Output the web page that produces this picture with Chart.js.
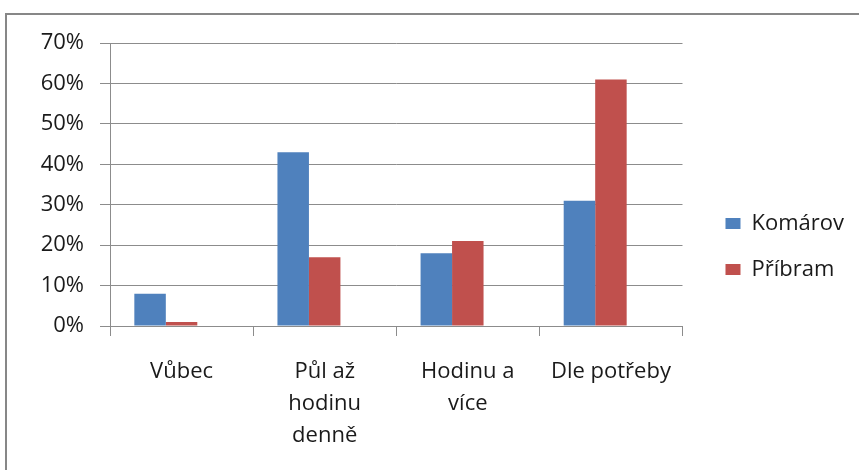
<!DOCTYPE html>
<html>
    <head>
        <meta charset="utf-8">
        <title>Komárov a Příbram</title>
        <style>
            body { margin: 0; background: #fff; }
            #wrap { position: relative; width: 859px; height: 470px; overflow: hidden; }
            #frame { position: absolute; left: 5px; top: 13px; width: 900px; height: 500px; border: 2px solid #878787; }
            #chart { position: absolute; left: 0; top: 0; }
        </style>
    </head>
    <body>
        <div id="wrap">
            <div id="frame"></div>
            <canvas id="chart" width="859" height="470"></canvas>
        </div>
    </body>

    <script src="https://cdn.jsdelivr.net/npm/chart.js@4.4.1/dist/chart.umd.min.js"></script>

    <script>
        const categories = [["Vůbec"], ["Půl až", "hodinu", "denně"], ["Hodinu a", "více"], ["Dle potřeby"]];
        const komarov = [8, 43, 18, 31];
        const pribram = [1, 17, 21, 61];
        // v originale je treti, prazdna rada - proto jsou sloupce posunute doleva
        const empty = [null, null, null, null];
        const yTicks = [0, 10, 20, 30, 40, 50, 60, 70];

        const FONT = { family: "'Open Sans', sans-serif", size: 22 };
        const GRID = "#8c8c8c";

        // posune legendu doprava jako v Excelu
        const legendShift = {
            id: "legendShift",
            afterLayout(chart) {
                chart.legend.left += 19;
                chart.legend.right += 19;
            }
        };

        const ctx = document.getElementById("chart").getContext("2d");
        const chart = new Chart(ctx, {
            type: "bar",
            data: {
                labels: categories,
                datasets: [
                    { label: "Komárov", data: komarov, backgroundColor: "#4f81bd" },
                    { label: "Příbram", data: pribram, backgroundColor: "#c0504d" },
                    { label: "", data: empty, backgroundColor: "#9bbb59" }
                ]
            },
            options: {
                responsive: false,
                animation: false,
                devicePixelRatio: 1,
                categoryPercentage: 0.66,
                barPercentage: 1,
                layout: { padding: { top: 43, bottom: 20, left: 0, right: 24 } },
                plugins: {
                    tooltip: { enabled: false },
                    legend: {
                        position: "right",
                        labels: {
                            boxWidth: 15,
                            boxHeight: 11,
                            padding: 24,
                            color: "#1a1a1a",
                            font: FONT,
                            filter: item => item.text !== ""
                        }
                    }
                },
                scales: {
                    x: {
                        grid: { drawOnChartArea: false, drawTicks: true, tickLength: 10, color: GRID, offset: true },
                        border: { display: false },
                        ticks: { color: "#1a1a1a", font: Object.assign({ lineHeight: 32 / 22 }, FONT), padding: 20, maxRotation: 0 },
                        afterFit(scale) { scale.height = 124; }
                    },
                    y: {
                        min: 0,
                        max: 70,
                        afterBuildTicks(scale) { scale.ticks = yTicks.map(v => ({ value: v })); },
                        grid: { color: GRID, tickLength: 10 },
                        border: { color: GRID },
                        ticks: { color: "#1a1a1a", font: FONT, padding: 16, callback: v => v + "%" },
                        afterFit(scale) { scale.width = 110; }
                    }
                }
            },
            plugins: [legendShift]
        });
    </script>
</html>
